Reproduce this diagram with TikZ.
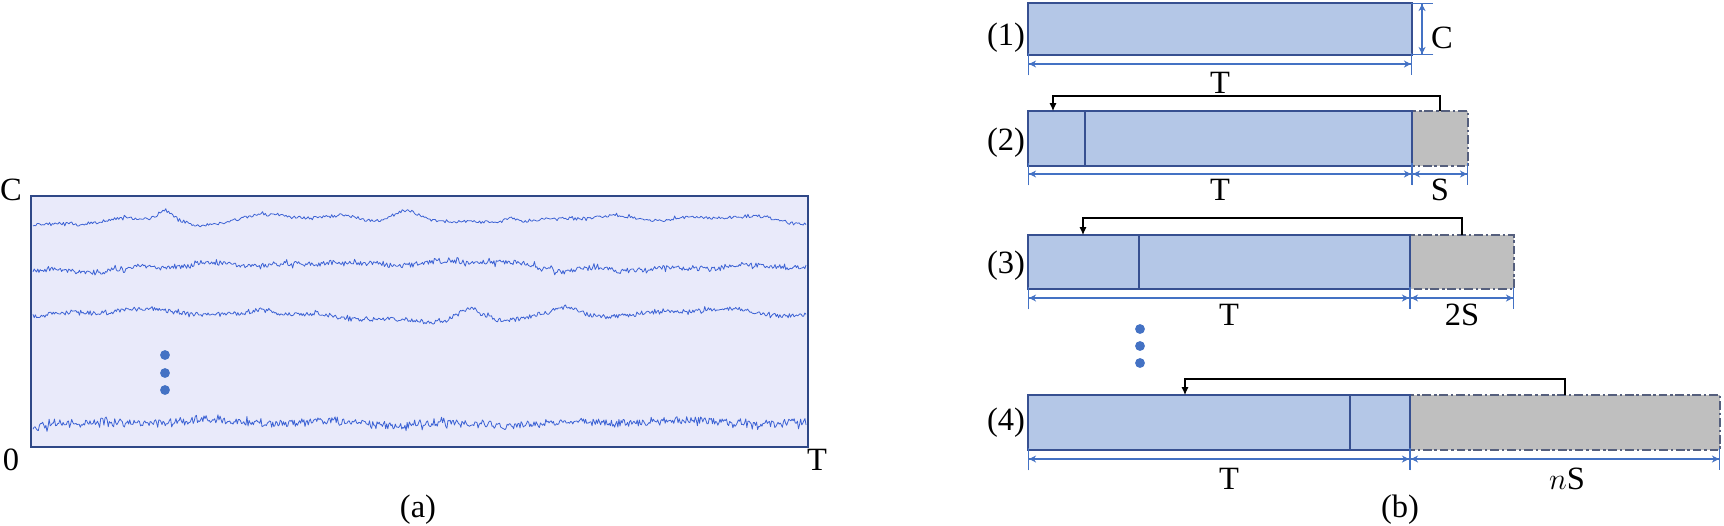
\documentclass[tikz,border=0pt]{standalone}
\usepackage{fontspec}
\setmainfont{Liberation Serif}
\usetikzlibrary{arrows.meta}
\definecolor{panelfill}{RGB}{233,234,250}
\definecolor{paneledge}{RGB}{47,72,135}
\definecolor{wave}{RGB}{60,98,212}
\definecolor{blockfill}{RGB}{180,199,231}
\definecolor{blockedge}{RGB}{55,80,145}
\definecolor{padfill}{RGB}{191,191,191}
\definecolor{padedge}{RGB}{85,95,125}
\definecolor{dimblue}{RGB}{68,114,196}
\tikzset{
  panel/.style={draw=paneledge, fill=panelfill, line width=1.6pt},
  wavy/.style={wave, line width=0.45pt, line join=round},
  block/.style={draw=blockedge, fill=blockfill, line width=1.1pt},
  divider/.style={blockedge, line width=0.7pt},
  pad/.style={draw=padedge, fill=padfill, line width=0.8pt,
    dash pattern=on 5pt off 1.6pt on 1.4pt off 1.6pt},
  dimline/.style={dimblue, line width=0.6pt,
    arrows={Bar[width=13pt]Stealth[length=4pt,width=4pt]-Stealth[length=4pt,width=4pt]Bar[width=13pt]}},
  move/.style={black, line width=0.6pt, -{Latex[length=4.5pt,width=4pt]}},
  blob/.style={fill=dimblue}
}
\begin{document}
\begin{tikzpicture}[x=0.02cm, y=-0.02cm, font=\fontsize{18.5}{21}\selectfont]
  \useasboundingbox (0,0) rectangle (1724,525);
  % (a) okvir
  \coordinate (PA) at (31,196);
  \coordinate (PB) at (808,447);
  \draw [panel] (PA) rectangle (PB);
  % (a) signali
  \pgfmathsetseed{17}
  \draw [wavy] plot [domain=33:806, samples=560, variable=\x]
    (\x, {220 + 1.4*rand + 2.5*rand*rand*rand + 3*sin(0.9*\x+30) + 2*sin(2.3*\x) + 1.5*sin(5.1*\x)
      - 13/(1+((\x-165)/10)^2) + 8/(1+((\x-200)/18)^2)
      - 9/(1+((\x-407)/12)^2) - 8/(1+((\x-511)/10)^2) - 5/(1+((\x-350)/15)^2)});
  \draw [wavy] plot [domain=33:806, samples=650, variable=\x]
    (\x, {266 + 2.4*rand + 5*rand*rand*rand + 2.5*sin(1.3*\x) + 2.5*sin(0.5*\x+60) + 1.5*sin(4.7*\x)
      - 5/(1+((\x-330)/20)^2) + 4/(1+((\x-560)/30)^2)});
  \draw [wavy] plot [domain=33:806, samples=650, variable=\x]
    (\x, {316 + 2*rand + 4*rand*rand*rand + 4*sin(0.6*\x+200) + 2*sin(1.9*\x) + 1.5*sin(4.3*\x)
      - 9/(1+((\x-265)/15)^2) - 12/(1+((\x-468)/12)^2)
      - 8/(1+((\x-566)/14)^2) + 6/(1+((\x-500)/15)^2)});
  \draw [wavy] plot [domain=33:806, samples=720, variable=\x]
    (\x, {423 + 3.5*rand + 6*rand*rand*rand + 1.5*sin(3*\x) + 1.5*sin(0.8*\x+90)});
  % (a) pike
  \foreach \y in {355,373,390}
    \fill [blob] (165,\y) circle (2.8pt);
  % (a) oznake
  \node (Ca) at (11,190) {C};
  \node (Oa) at (11,460) {0};
  \node (Ta) at (817,460) {T};
  \node (capa) at (418,510) {(a)};

  % (b) vrstica 1
  \coordinate (R1a) at (1028,3);
  \coordinate (R1b) at (1412,55);
  \draw [block] (R1a) rectangle (R1b);
  \coordinate (D1a) at (1028,64);
  \coordinate (D1b) at (1412,64);
  \draw [dimline] (D1a) -- (D1b);
  \coordinate (H1a) at (1422,3);
  \coordinate (H1b) at (1422,55);
  \draw [dimline] (H1a) -- (H1b);
  \node (C1) at (1442,38) {C};
  \node (T1) at (1220,83) {T};
  \node (n1) at (1006,38) {(1)};

  % (b) vrstica 2
  \coordinate (R2a) at (1028,111);
  \coordinate (R2b) at (1412,166);
  \coordinate (G2) at (1468,111);
  \draw [pad] (R2b) rectangle (G2);
  \draw [block] (R2a) rectangle (R2b);
  \draw [divider] (1085,111) -- (1085,166);
  \coordinate (S2) at (1440,111);
  \coordinate (E2) at (1053,111);
  \draw [move] (S2) -- ++(0,-15) -| (E2);
  \coordinate (D2a) at (1028,174);
  \coordinate (D2b) at (1412,174);
  \coordinate (D2c) at (1468,174);
  \draw [dimline] (D2a) -- (D2b);
  \draw [dimline] (D2b) -- (D2c);
  \node (T2) at (1220,190) {T};
  \node (S2l) at (1440,190) {S};
  \node (n2) at (1006,143) {(2)};

  % (b) vrstica 3
  \coordinate (R3a) at (1028,235);
  \coordinate (R3b) at (1410,289);
  \coordinate (G3) at (1514,235);
  \draw [pad] (R3b) rectangle (G3);
  \draw [block] (R3a) rectangle (R3b);
  \draw [divider] (1139,235) -- (1139,289);
  \coordinate (S3) at (1462,235);
  \coordinate (E3) at (1083,235);
  \draw [move] (S3) -- ++(0,-17) -| (E3);
  \coordinate (D3a) at (1028,298);
  \coordinate (D3b) at (1410,298);
  \coordinate (D3c) at (1514,298);
  \draw [dimline] (D3a) -- (D3b);
  \draw [dimline] (D3b) -- (D3c);
  \node (T3) at (1229,315) {T};
  \node (S3l) at (1462,315) {2S};
  \node (n3) at (1006,266) {(3)};

  % (b) pike
  \foreach \y in {329,346,363}
    \fill [blob] (1140,\y) circle (2.8pt);

  % (b) vrstica 4
  \coordinate (R4a) at (1028,395);
  \coordinate (R4b) at (1410,450);
  \coordinate (G4) at (1720,395);
  \draw [pad] (R4b) rectangle (G4);
  \draw [block] (R4a) rectangle (R4b);
  \draw [divider] (1350,395) -- (1350,450);
  \coordinate (S4) at (1565,395);
  \coordinate (E4) at (1185,395);
  \draw [move] (S4) -- ++(0,-16) -| (E4);
  \coordinate (D4a) at (1028,459);
  \coordinate (D4b) at (1410,459);
  \coordinate (D4c) at (1720,459);
  \draw [dimline] (D4a) -- (D4b);
  \draw [dimline] (D4b) -- (D4c);
  \node (T4) at (1229,479) {T};
  \node (S4l) at (1567,479) {$n$S};
  \node (n4) at (1006,423) {(4)};
  \node (capb) at (1400,510) {(b)};
\end{tikzpicture}
\end{document}
